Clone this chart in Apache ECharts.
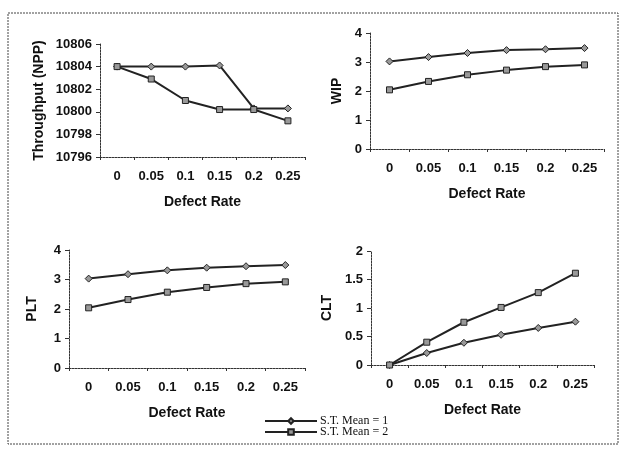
<!DOCTYPE html>
<html><head><meta charset="utf-8">
<script src="https://cdn.jsdelivr.net/npm/echarts@6/dist/echarts.min.js"></script>
<style>html,body{margin:0;padding:0;background:#fff}#c{width:622px;height:453px}</style>
</head><body><div id="c"></div>
<script>
const categories = ['0', '0.05', '0.1', '0.15', '0.2', '0.25'];
const seriesNames = ['S.T. Mean = 1', 'S.T. Mean = 2'];
const throughput1 = [10804, 10804, 10804, 10804.1, 10800.3, 10800.3];
const throughput2 = [10804, 10802.9, 10801, 10800.2, 10800.2, 10799.2];
const wip1 = [3.02, 3.17, 3.31, 3.41, 3.44, 3.48];
const wip2 = [2.04, 2.33, 2.56, 2.72, 2.84, 2.9];
const plt1 = [3.03, 3.18, 3.31, 3.40, 3.45, 3.49];
const plt2 = [2.04, 2.32, 2.57, 2.73, 2.86, 2.92];
const clt1 = [0, 0.21, 0.39, 0.53, 0.65, 0.76];
const clt2 = [0, 0.40, 0.75, 1.01, 1.27, 1.61];

const FONT = 'Liberation Sans';
const panels = [
  {name: 'Throughput (NPP)', s1: throughput1, s2: throughput2, min: 10796, max: 10806, interval: 2, grid: {left: 100, right: 317, top: 44, bottom: 296}, gap: 54},
  {name: 'WIP', s1: wip1, s2: wip2, min: 0, max: 4, interval: 1, grid: {left: 370, right: 18, top: 33, bottom: 304}, gap: 26},
  {name: 'PLT', s1: plt1, s2: plt2, min: 0, max: 4, interval: 1, grid: {left: 69, right: 317, top: 250, bottom: 85}, gap: 30},
  {name: 'CLT', s1: clt1, s2: clt2, min: 0, max: 2, interval: 0.5, grid: {left: 371, right: 28, top: 251, bottom: 88}, gap: 37}
];
const axisLine = {show: true, lineStyle: {color: '#333', width: 1, type: [2, 1]}};
const legendBase = {
  orient: 'vertical', left: 264, padding: 0, itemWidth: 52, itemHeight: 7, itemGap: 0,
  textStyle: {fontFamily: 'Liberation Serif', fontSize: 12, color: '#111', padding: [0, 0, 0, -2]}
};
const option = {
  animation: false,
  backgroundColor: '#fff',
  grid: panels.map(p => p.grid),
  xAxis: panels.map((p, i) => ({
    type: 'category', gridIndex: i, data: categories, boundaryGap: true,
    name: 'Defect Rate', nameLocation: 'middle', nameGap: 38,
    nameTextStyle: {fontFamily: FONT, fontWeight: 'bold', fontSize: 14, color: '#111'},
    axisLine: axisLine, axisTick: {show: true, length: 3, lineStyle: {color: '#333'}},
    axisLabel: {fontFamily: FONT, fontWeight: 'bold', fontSize: 13, color: '#111', margin: 13},
    splitLine: {show: false}
  })),
  yAxis: panels.map((p, i) => ({
    type: 'value', gridIndex: i, min: p.min, max: p.max, interval: p.interval,
    name: p.name, nameLocation: 'middle', nameGap: p.gap, nameRotate: 90,
    nameTextStyle: {fontFamily: FONT, fontWeight: 'bold', fontSize: 14, color: '#111'},
    axisLine: axisLine, axisTick: {show: true, length: 4, lineStyle: {color: '#333'}},
    axisLabel: {fontFamily: FONT, fontWeight: 'bold', fontSize: 13, color: '#111', margin: 8, formatter: v => String(v)},
    splitLine: {show: false}
  })),
  legend: [
    Object.assign({}, legendBase, {top: 415, data: [seriesNames[0]]}),
    Object.assign({}, legendBase, {top: 426, data: [seriesNames[1]]})
  ],
  series: []
};
panels.forEach((p, i) => {
  option.series.push({
    name: seriesNames[0], type: 'line', xAxisIndex: i, yAxisIndex: i, data: p.s1,
    symbol: 'diamond', symbolSize: 7,
    lineStyle: {color: '#222', width: 2}, itemStyle: {color: '#999', borderColor: '#222', borderWidth: 1}
  });
  option.series.push({
    name: seriesNames[1], type: 'line', xAxisIndex: i, yAxisIndex: i, data: p.s2,
    symbol: 'rect', symbolSize: 6,
    lineStyle: {color: '#222', width: 2}, itemStyle: {color: '#999', borderColor: '#222', borderWidth: 1}
  });
});
option.graphic = [{
  type: 'rect', shape: {x: 8, y: 13, width: 610, height: 431},
  style: {fill: 'none', stroke: '#444', lineWidth: 1, lineDash: [2, 1]}, silent: true, z: -1
}];
echarts.init(document.getElementById('c')).setOption(option);
</script></body></html>
